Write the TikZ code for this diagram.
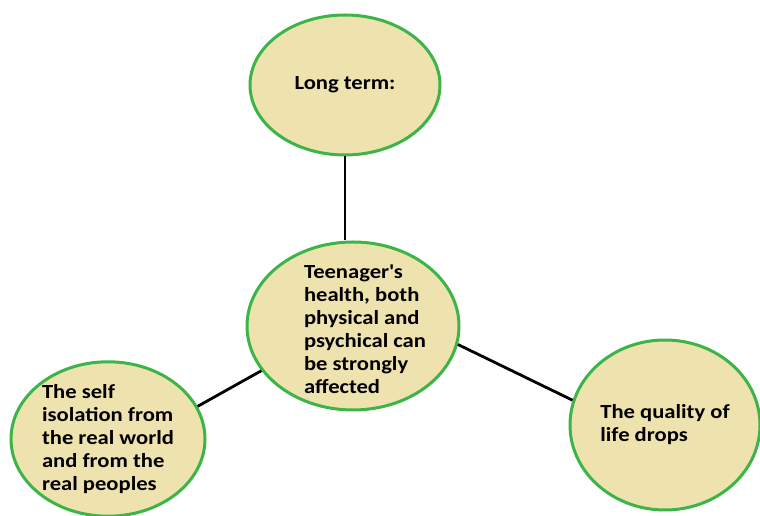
\documentclass[tikz,border=0pt]{standalone}
\usepackage{fontspec}
\setmainfont{Carlito}[FakeStretch=1.13]
\usepackage{tikz}
\usetikzlibrary{shapes.geometric}
\usetikzlibrary{positioning}
\definecolor{bubblefill}{RGB}{238,226,174}
\definecolor{bubbleline}{RGB}{60,180,72}
\tikzset{
% Define standard bubble
bubble/.style={ellipse, draw=bubbleline, line width=3pt, fill=bubblefill,
  inner sep=0, align=left, font=\fontsize{20}{23}\selectfont\bfseries},
bubbletext/.style={inner sep=0, align=left, font=\fontsize{20}{23}\selectfont\bfseries},
link/.style={draw=black, line width=2.8pt}
}

\begin{document}
\begin{tikzpicture}[x=1pt, y=1pt]
  \useasboundingbox (0, 0) rectangle (760, 516);

  \node[bubble,
    minimum width = 190pt,
    minimum height = 140pt] (long) at (345, 431) {Long term:};
  \node[bubble,
    minimum width = 212pt,
    minimum height = 168pt] (teen) at (353, 190) {};
  \node[bubbletext] (teen-text) at ([xshift=12pt, yshift=-3pt]teen.center) {Teenager\textquotesingle s\\health, both\\physical and\\psychical can\\be strongly\\affected};
  \node[bubble,
    minimum width = 194pt,
    minimum height = 148pt] (self) at (108, 77) {The self\\isolation from\\the real world\\and from the\\real peoples};
  \node[bubble,
    minimum width = 190pt,
    minimum height = 170pt] (life) at (665, 91) {The quality of\\life drops};

  \draw[link] (long.south) -- (long.south |- teen.north);
  \draw[link] (teen.-154) -- (self.20);
  \draw[link] (teen.-10) -- (life.165);
\end{tikzpicture}
\end{document}
